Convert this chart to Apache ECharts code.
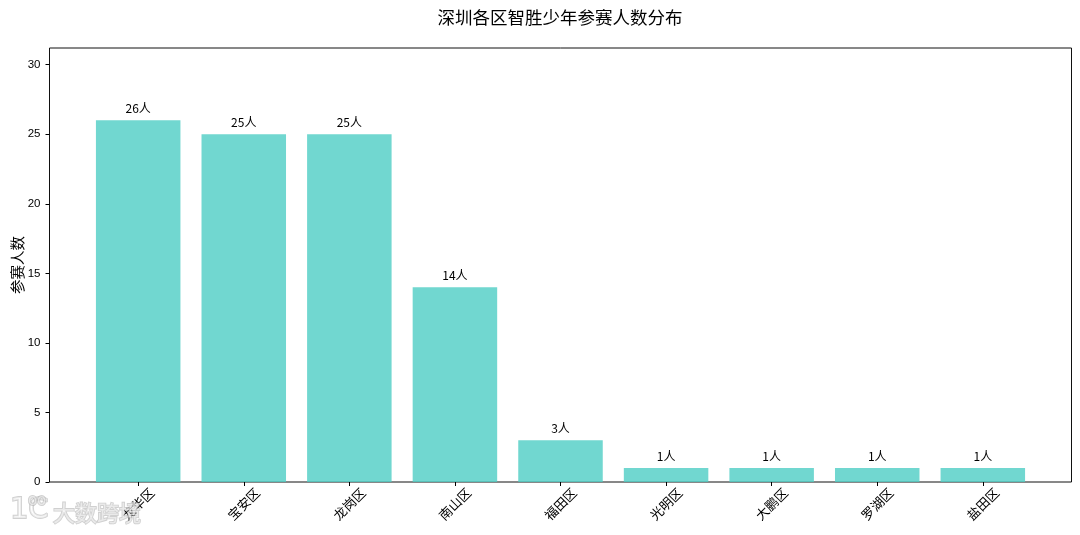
<!DOCTYPE html>
<html><head><meta charset="utf-8">
<style>html,body{margin:0;padding:0;background:#fff}#c{width:1080px;height:535px}</style>
<script src="https://cdn.jsdelivr.net/npm/echarts@6/dist/echarts.min.js"></script>
</head><body><div id="c"></div>
<script>
const titleText = '深圳各区智胜少年参赛人数分布';
const yName = '参赛人数';
const categories = ['龙华区','宝安区','龙岗区','南山区','福田区','光明区','大鹏区','罗湖区','盐田区'];
const values = [26,25,25,14,3,1,1,1,1];
const positions = [0,1,2,3,4,5,6,7,8];
const yTicks = [0,5,10,15,20,25,30];
const font = '"Noto Sans CJK SC", sans-serif';
const wmStyle = {fill:'rgba(255,255,255,0.55)',stroke:'rgba(170,170,170,0.55)',lineWidth:1.8};
const chart = echarts.init(document.getElementById('c'), null, {renderer:'canvas'});
chart.setOption({
  animation:false,
  backgroundColor:'#fff',
  title:{text:titleText,left:555,textAlign:'center',top:4,textStyle:{fontFamily:font,fontSize:17.5,fontWeight:'normal',color:'#000'}},
  grid:{left:49.5,right:8.5,top:48,bottom:53,outerBoundsMode:'none',show:true,borderColor:'#111',borderWidth:1,backgroundColor:'transparent'},
  xAxis:{type:'value',min:-0.84,max:8.84,
    axisLine:{show:false},splitLine:{show:false},
    axisTick:{show:true,customValues:positions,length:4,lineStyle:{color:'#000'}},
    axisLabel:{customValues:positions,rotate:45,margin:22,align:'center',verticalAlign:'middle',fontFamily:font,fontSize:13,color:'#000',hideOverlap:false,
      formatter:v=>categories[Math.round(v)]}},
  yAxis:{type:'value',min:0,max:31.2,name:yName,nameLocation:'middle',nameGap:25,nameMoveOverlap:false,
    nameTextStyle:{fontFamily:font,fontSize:14.5,color:'#000'},
    axisLine:{show:false,onZero:false},splitLine:{show:false},
    axisTick:{show:true,customValues:yTicks,length:4,lineStyle:{color:'#000'}},
    axisLabel:{customValues:yTicks,margin:9,fontFamily:'"Liberation Sans", sans-serif',fontSize:11.5,color:'#000'}},
  series:[{type:'bar',barWidth:84.5,
    data:positions.map((p,i)=>[p,values[i]]),
    itemStyle:{color:'rgba(78,205,196,0.8)'},
    label:{show:true,position:'top',distance:6,fontFamily:font,fontSize:12,color:'#000',
      formatter:p=>p.value[1]+'人'}}],
  graphic:[{type:'text',left:52,top:501,silent:true,z:100,
    style:{text:'大数跨境',fontFamily:font,fontSize:22,...wmStyle}},
   {type:'text',left:9,top:495,silent:true,z:100,
    style:{text:'1C',fontFamily:'"DejaVu Sans", sans-serif',fontSize:29,...wmStyle}},
   {type:'text',left:27,top:493,silent:true,z:100,
    style:{text:'oo',fontFamily:'"DejaVu Sans", sans-serif',fontSize:15,...wmStyle}}]
});
</script></body></html>
